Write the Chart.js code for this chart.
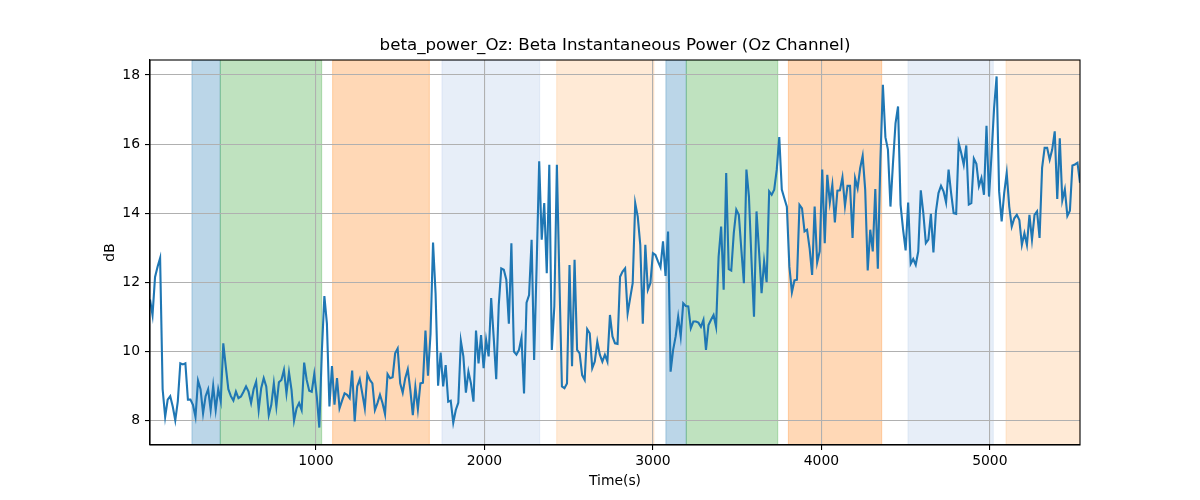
<!DOCTYPE html>
<html>
<head>
<meta charset="utf-8">
<script src="https://cdn.jsdelivr.net/npm/chart.js@4.4.1/dist/chart.umd.min.js"></script>
<style>
html, body { margin: 0; padding: 0; background: #fff; }
</style>
</head>
<body>
<canvas id="beta_chart" width="1200" height="500"></canvas>
<script>
// samples every 15 s, starting at 15 s
const tStart = 15;
const tStep = 15;
const betaPower = [
  11.5, 11.05, 12.15, 12.45, 12.7, 8.9, 8.1, 8.6, 8.7, 8.4,
  8.0, 8.55, 9.65, 9.62, 9.65, 8.6, 8.6, 8.45, 8.1, 9.15,
  8.9, 8.2, 8.7, 8.9, 8.3, 9.0, 8.3, 8.9, 8.55, 10.23,
  9.55, 8.9, 8.7, 8.57, 8.83, 8.64, 8.69, 8.83, 8.98, 8.83,
  8.5, 8.9, 9.12, 8.3, 8.93, 9.22, 8.98, 8.15, 8.45, 9.07,
  8.4, 9.1, 9.17, 9.46, 8.78, 9.39, 8.88, 7.99, 8.35, 8.5,
  8.3, 9.67, 9.17, 8.86, 8.83, 9.34, 8.69, 7.79, 10.0, 11.6,
  10.8, 8.4, 9.57, 8.45, 9.22, 8.35, 8.57, 8.78, 8.74, 8.64,
  9.44, 7.97, 8.98, 9.19, 8.78, 8.35, 9.34, 9.17, 9.07, 8.3,
  8.5, 8.74, 8.5, 8.18, 9.34, 9.22, 9.25, 9.94, 10.08, 9.07,
  8.8, 9.22, 9.48, 8.88, 8.15, 8.96, 8.32, 9.07, 9.09, 10.6,
  9.29, 10.5, 13.15, 11.68, 9.0, 9.96, 8.98, 9.6, 8.54, 8.57,
  7.93, 8.3, 8.51, 10.3, 9.85, 8.8, 9.41, 9.07, 8.54, 10.6,
  9.65, 10.47, 9.51, 10.33, 9.85, 11.54, 10.4, 9.19, 11.34, 12.4,
  12.36, 12.07, 10.8, 13.13, 9.99, 9.9, 10.04, 10.4, 8.78, 11.41,
  11.63, 13.23, 9.75, 12.5, 15.5, 13.23, 14.29, 12.26, 15.4, 10.04,
  11.3, 15.4, 12.07, 8.98, 8.93, 9.07, 12.5, 9.57, 12.65, 10.04,
  9.94, 9.31, 9.17, 10.64, 10.52, 9.51, 9.7, 10.28, 9.9, 9.7,
  9.9, 9.7, 11.05, 10.43, 10.23, 10.21, 12.16, 12.31, 12.4, 11.1,
  11.54, 11.97, 14.29, 13.9, 13.08, 10.8, 13.08, 11.78, 11.97, 12.84,
  12.79, 12.6, 12.43, 13.18, 12.18, 13.47, 9.41, 10.04, 10.43, 11.0,
  10.43, 11.39, 11.31, 11.3, 10.67, 10.86, 10.86, 10.83, 10.71, 10.91,
  10.04, 10.76, 10.91, 11.05, 10.71, 12.74, 13.61, 11.78, 15.16, 12.38,
  12.34, 13.42, 14.1, 13.95, 12.94, 11.97, 15.26, 14.48, 12.65, 11.0,
  14.05, 12.9, 11.68, 12.6, 12.0, 14.63, 14.53, 14.68, 15.26, 16.2,
  14.68, 14.43, 14.19, 12.45, 11.71, 12.05, 12.07, 14.24, 14.14, 13.47,
  13.52, 12.99, 12.21, 14.19, 12.57, 12.89, 15.26, 13.13, 15.11, 14.31,
  14.82, 13.73, 14.65, 14.66, 15.04, 14.21, 14.79, 14.79, 13.28, 15.01,
  14.72, 15.3, 15.66, 14.68, 12.34, 13.52, 12.89, 14.7, 12.39, 15.5,
  17.72, 16.2, 15.84, 14.19, 15.45, 16.6, 17.09, 14.24, 13.52, 12.92,
  14.31, 12.53, 12.67, 12.5, 12.89, 14.66, 14.0, 13.13, 13.23, 13.98,
  12.86, 14.05, 14.58, 14.79, 14.63, 14.31, 15.26, 14.58, 14.0, 13.98,
  16.03, 15.74, 15.4, 15.96, 14.25, 14.29, 15.58, 15.43, 14.78, 15.02,
  14.53, 16.53, 14.48, 15.7, 17.04, 17.96, 14.63, 13.76, 14.58, 15.16,
  14.19, 13.61, 13.85, 13.95, 13.8, 13.08, 13.42, 13.08, 13.95, 13.23,
  13.95, 14.05, 13.28, 15.31, 15.89, 15.89, 15.55, 15.84, 16.37, 14.41,
  16.17, 14.37, 14.69, 13.92, 14.07, 15.38, 15.41, 15.46, 14.88
];

// shaded epochs (seconds)
const epochStart = [264, 432, 1099, 1748, 2429, 3077, 3198, 3804, 4514, 5096];
const epochEnd   = [432, 1034, 1673, 2328, 3006, 3198, 3741, 4358, 5020, 5535];
const epochColor = [
  'rgba(31,119,180,0.3)', 'rgba(44,160,44,0.3)', 'rgba(255,127,14,0.3)',
  'rgba(174,199,232,0.3)', 'rgba(255,187,120,0.3)',
  'rgba(31,119,180,0.3)', 'rgba(44,160,44,0.3)', 'rgba(255,127,14,0.3)',
  'rgba(174,199,232,0.3)', 'rgba(255,187,120,0.3)'
];

const xTicks = [1000, 2000, 3000, 4000, 5000];
const yTicks = [8, 10, 12, 14, 16, 18];
const chartTitle = 'beta_power_Oz: Beta Instantaneous Power (Oz Channel)';

const FONT = 'DejaVu Sans';

const epochPlugin = {
  id: 'epochs',
  beforeDraw(chart) {
    const { ctx, chartArea: a, scales: { x } } = chart;
    ctx.save();
    ctx.beginPath();
    ctx.rect(a.left, a.top, a.width, a.height);
    ctx.clip();
    epochStart.forEach((s, i) => {
      const x0 = x.getPixelForValue(s);
      const x1 = x.getPixelForValue(epochEnd[i]);
      ctx.fillStyle = epochColor[i];
      ctx.fillRect(x0, a.top, x1 - x0, a.height);
      ctx.strokeStyle = epochColor[i];
      ctx.lineWidth = 1;
      ctx.strokeRect(x0, a.top, x1 - x0, a.height);
    });
    ctx.restore();
  },
  afterDraw(chart) {
    const { ctx, chartArea: a } = chart;
    ctx.save();
    ctx.strokeStyle = '#000';
    ctx.lineWidth = 1.1;
    ctx.strokeRect(a.left, a.top, a.width, a.height);
    // title centred over the axes, like matplotlib
    ctx.fillStyle = '#000';
    ctx.font = '16.7px "' + FONT + '"';
    ctx.textAlign = 'center';
    ctx.textBaseline = 'middle';
    ctx.fillText(chartTitle, (a.left + a.right) / 2, 46);
    ctx.restore();
  }
};

const ctx = document.getElementById('beta_chart').getContext('2d');
const betaChart = new Chart(ctx, {
  type: 'line',
  data: {
    datasets: [{
      label: 'beta_power_Oz',
      data: betaPower.map((v, i) => ({ x: tStart + i * tStep, y: v })),
      borderColor: '#1f77b4',
      borderWidth: 2.1,
      pointRadius: 0,
      tension: 0,
      fill: false
    }]
  },
  options: {
    responsive: false,
    animation: false,
    devicePixelRatio: 1,
    layout: { padding: { left: 0, right: 120, top: 60, bottom: 0 } },
    plugins: {
      legend: { display: false },
      tooltip: { enabled: false },
      title: { display: false }
    },
    scales: {
      x: {
        type: 'linear',
        min: tStart,
        max: 5535,
        afterBuildTicks: s => { s.ticks = xTicks.map(v => ({ value: v })); },
        afterFit: s => { s.height = 55; },
        grid: { color: '#b0b0b0', lineWidth: 1.1, tickColor: '#000', tickLength: 5, tickWidth: 1.1 },
        border: { color: '#000', width: 1.1 },
        ticks: {
          color: '#000', font: { family: FONT, size: 13.9 }, padding: 3,
          maxRotation: 0, autoSkip: false, callback: v => String(v)
        },
        title: {
          display: true, text: 'Time(s)', color: '#000',
          font: { family: FONT, size: 13.9 }, padding: { top: 0, bottom: 10 }
        }
      },
      y: {
        min: 7.285,
        max: 18.435,
        afterBuildTicks: s => { s.ticks = yTicks.map(v => ({ value: v })); },
        afterFit: s => { s.width = 150; },
        grid: { color: '#b0b0b0', lineWidth: 1.1, tickColor: '#000', tickLength: 5, tickWidth: 1.1 },
        border: { color: '#000', width: 1.1 },
        ticks: {
          color: '#000', font: { family: FONT, size: 13.9 }, padding: 5,
          autoSkip: false, callback: v => String(v)
        },
        title: {
          display: true, text: 'dB', color: '#000',
          font: { family: FONT, size: 13.9 }, padding: { top: 102, bottom: 0 }
        }
      }
    }
  },
  plugins: [epochPlugin]
});
</script>
</body>
</html>
